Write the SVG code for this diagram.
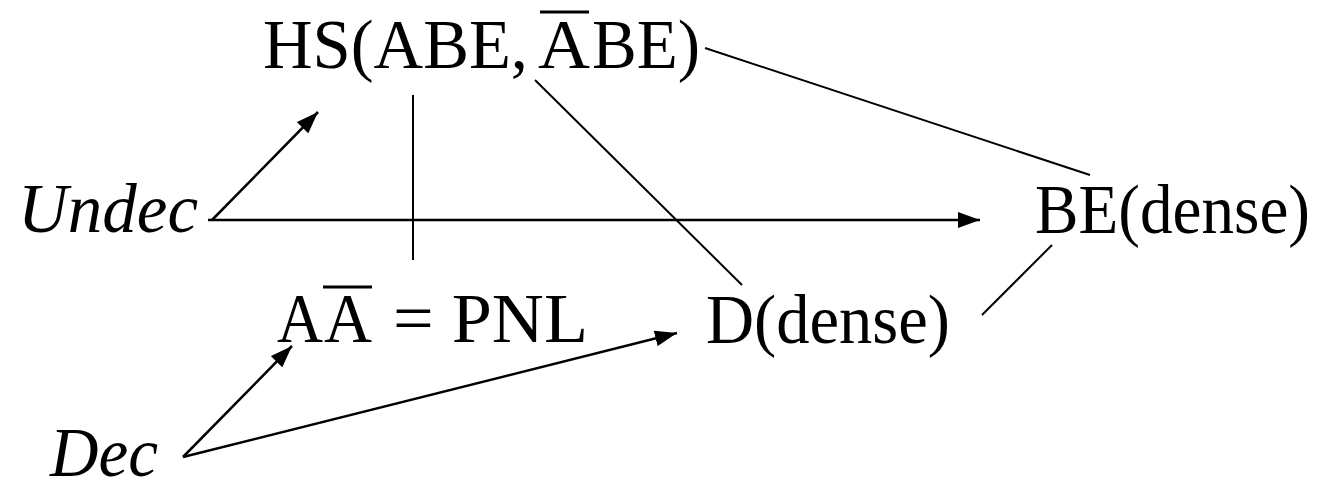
<svg xmlns="http://www.w3.org/2000/svg" width="1335" height="483" viewBox="0 0 1335 483">
  <style>
    .lbl { font-family: "Liberation Serif", "DejaVu Serif", serif; font-size: 70px; fill: #000; }
    .it { font-style: italic; }
    .bar { stroke: #000; stroke-width: 3; }
    .edge { stroke: #000; stroke-width: 2; fill: none; }
    .arrow { stroke: #000; stroke-width: 2.5; fill: none; marker-end: url(#head); }
  </style>
  <defs>
    <marker id="head" markerUnits="userSpaceOnUse" markerWidth="24" markerHeight="16" refX="22" refY="8" orient="auto">
      <path d="M0,0 L22,8 L0,16 Z" fill="#000"/>
    </marker>
  </defs>
  <rect width="1335" height="483" fill="#fff"/>

  <!-- edges between the nodes -->
  <g id="connectors">
    <line class="arrow" x1="212" y1="220" x2="318" y2="112"/>
    <line class="arrow" x1="208" y1="220" x2="980" y2="220"/>
    <line class="edge" x1="413" y1="95" x2="413" y2="260"/>
    <line class="edge" x1="535" y1="80" x2="742" y2="285"/>
    <line class="edge" x1="705" y1="48" x2="1090" y2="175"/>
    <line class="edge" x1="1052" y1="245" x2="982" y2="315"/>
    <line class="arrow" x1="183" y1="457" x2="292" y2="346"/>
    <line class="arrow" x1="183" y1="457" x2="677" y2="333"/>
  </g>

  <g id="hs">
    <text class="lbl" x="263" y="68" textLength="265" lengthAdjust="spacingAndGlyphs">HS(ABE,</text>
    <text class="lbl" x="538" y="68" textLength="52" lengthAdjust="spacingAndGlyphs">A</text>
    <text class="lbl" x="592" y="68" textLength="108" lengthAdjust="spacingAndGlyphs">BE)</text>
    <line class="bar" x1="540" y1="12" x2="589" y2="12"/>
  </g>

  <g id="undec">
    <text class="lbl it" x="18" y="232" textLength="180" lengthAdjust="spacingAndGlyphs">Undec</text>
  </g>

  <g id="be">
    <text class="lbl" x="1035" y="233" textLength="275" lengthAdjust="spacingAndGlyphs">BE(dense)</text>
  </g>

  <g id="pnl">
    <text class="lbl" x="277" y="342" textLength="46" lengthAdjust="spacingAndGlyphs">A</text>
    <text class="lbl" x="324" y="342" textLength="48" lengthAdjust="spacingAndGlyphs">A</text>
    <line class="bar" x1="323" y1="287" x2="372" y2="287"/>
    <text class="lbl" x="393" y="342" textLength="195" lengthAdjust="spacingAndGlyphs">= PNL</text>
  </g>

  <g id="d">
    <text class="lbl" x="706" y="343" textLength="244" lengthAdjust="spacingAndGlyphs">D(dense)</text>
  </g>

  <g id="dec">
    <text class="lbl it" x="50" y="476" textLength="108" lengthAdjust="spacingAndGlyphs">Dec</text>
  </g>
</svg>
